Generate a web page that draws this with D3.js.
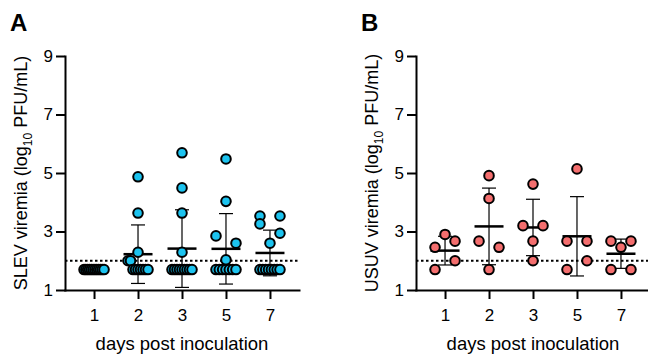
<!DOCTYPE html>
<html>
<head>
<meta charset="utf-8">
<script src="https://cdn.jsdelivr.net/npm/d3@7"></script>
<style>
  body { margin: 0; background: #fff; }
  svg text { font-family: "Liberation Sans", Arial, sans-serif; fill: #000; }
</style>
</head>
<body>
<svg id="chart" width="648" height="356"></svg>
<script>
// categories and ticks
const days = ['1', '2', '3', '5', '7'];
const yTicks = [1, 3, 5, 7, 9];
const detectionLimit = 2;

// SLEV titres per day (log10 PFU/mL), 1.7 = below the limit
const slevDay1 = [1.7, 1.7, 1.7, 1.7, 1.7, 1.7, 1.7, 1.7, 1.7, 1.7, 1.7, 1.7];
const slevDay2 = [4.87, 3.63, 2.29, 2.0, 2.0, 1.7, 1.7, 1.7, 1.7, 1.7, 1.7, 1.7];
const slevDay3 = [5.69, 4.49, 3.63, 2.29, 1.7, 1.7, 1.7, 1.7, 1.7, 1.7, 1.7, 1.7, 1.7];
const slevDay5 = [5.48, 4.03, 2.85, 2.6, 2.03, 1.7, 1.7, 1.7, 1.7, 1.7, 1.7, 1.7];
const slevDay7 = [3.53, 3.53, 3.26, 2.94, 2.6, 1.7, 1.7, 1.7, 1.7, 1.7, 1.7, 1.7, 1.7];

// USUV titres per day
const usuvDay1 = [2.9, 2.46, 1.7, 2.67, 2.0];
const usuvDay2 = [4.91, 4.13, 2.67, 2.46, 1.7];
const usuvDay3 = [4.62, 3.2, 3.2, 2.67, 2.0];
const usuvDay5 = [5.14, 2.67, 2.67, 1.7, 2.0];
const usuvDay7 = [2.67, 2.46, 2.67, 1.7, 1.7];

const panels = [
  { letter: 'A', virus: 'SLEV', fill: '#1cc3ef', x0: 65,
    groups: [slevDay1, slevDay2, slevDay3, slevDay5, slevDay7] },
  { letter: 'B', virus: 'USUV', fill: '#f46e6e', x0: 416,
    groups: [usuvDay1, usuvDay2, usuvDay3, usuvDay5, usuvDay7] }
];

const plotW = 234, yTop = 56, yBot = 290;
const r = 4.8, rowGap = 9.5, spread = 10;

const svg = d3.select('#chart');

// points that sit closer than rowGap (bottom-up) share a row and are spread sideways
function swarm(values, y) {
  const pts = values.map((v, i) => ({ v, i, py: y(v) }));
  const sorted = pts.slice().sort((a, b) => a.v - b.v || a.i - b.i);
  const rows = [];
  let cur = null;
  sorted.forEach(p => {
    if (cur && cur[0].py - p.py < rowGap) cur.push(p);
    else { cur = [p]; rows.push(cur); }
  });
  rows.forEach(row => {
    row.sort((a, b) => a.i - b.i);
    const m = row.length;
    row.forEach((p, k) => { p.dx = m === 1 ? 0 : -spread + k * 2 * spread / (m - 1); });
  });
  return pts;
}

panels.forEach(pn => {
  const x = d3.scalePoint().domain(days).range([pn.x0, pn.x0 + plotW]).padding(0.66);
  const y = d3.scaleLinear().domain([1, 9]).range([yBot, yTop]);
  const g = svg.append('g');

  // panel letter
  g.append('text')
    .attr('x', pn.x0 - 55).attr('y', 31)
    .attr('font-size', '24px').attr('font-weight', 'bold')
    .text(pn.letter);

  // axes
  const ax = g.append('g')
    .attr('transform', `translate(${pn.x0},0)`)
    .call(d3.axisLeft(y).tickValues(yTicks).tickSize(9).tickSizeOuter(0).tickPadding(3));
  const bx = g.append('g')
    .attr('transform', `translate(0,${yBot})`)
    .call(d3.axisBottom(x).tickSize(9).tickSizeOuter(0).tickPadding(10));
  [ax, bx].forEach(a => {
    a.select('.domain').attr('stroke', '#000').attr('stroke-width', 2).attr('stroke-linecap', 'square');
    a.selectAll('.tick line').attr('stroke', '#000').attr('stroke-width', 2);
    a.selectAll('.tick text').attr('font-size', '17px').attr('font-family', null);
  });

  // axis titles
  g.append('text')
    .attr('x', pn.x0 + plotW / 2).attr('y', 350)
    .attr('text-anchor', 'middle').attr('font-size', '18.5px')
    .text('days post inoculation');
  const yt = g.append('text')
    .attr('transform', `translate(${pn.x0 - 38},${(yTop + yBot) / 2}) rotate(-90)`)
    .attr('text-anchor', 'middle').attr('font-size', '18px');
  yt.append('tspan').text(`${pn.virus} viremia (log`);
  yt.append('tspan').attr('font-size', '12px').attr('dy', 5).text('10');
  yt.append('tspan').attr('dy', -5).text(' PFU/mL)');

  // detection limit
  g.append('line')
    .attr('x1', pn.x0).attr('x2', pn.x0 + plotW)
    .attr('y1', y(detectionLimit)).attr('y2', y(detectionLimit))
    .attr('stroke', '#000').attr('stroke-width', 2).attr('stroke-dasharray', '2.5,2.5');

  pn.groups.forEach((vals, gi) => {
    const cx = x(days[gi]);
    const mean = d3.mean(vals);
    const sd = d3.deviation(vals) || 0;
    const eg = g.append('g').attr('stroke', '#000');
    eg.append('line').attr('x1', cx).attr('x2', cx)
      .attr('y1', y(mean - sd)).attr('y2', y(mean + sd)).attr('stroke-width', 1.2);
    [mean - sd, mean + sd].forEach(v => {
      eg.append('line').attr('x1', cx - 7).attr('x2', cx + 7)
        .attr('y1', y(v)).attr('y2', y(v)).attr('stroke-width', 1.2);
    });
    eg.append('line').attr('x1', cx - 14.5).attr('x2', cx + 14.5)
      .attr('y1', y(mean)).attr('y2', y(mean)).attr('stroke-width', 2.5);

    g.append('g').selectAll('circle')
      .data(swarm(vals, y))
      .join('circle')
      .attr('cx', d => cx + d.dx)
      .attr('cy', d => d.py)
      .attr('r', r)
      .attr('fill', pn.fill)
      .attr('stroke', '#000')
      .attr('stroke-width', 2);
  });
});
</script>
</body>
</html>
